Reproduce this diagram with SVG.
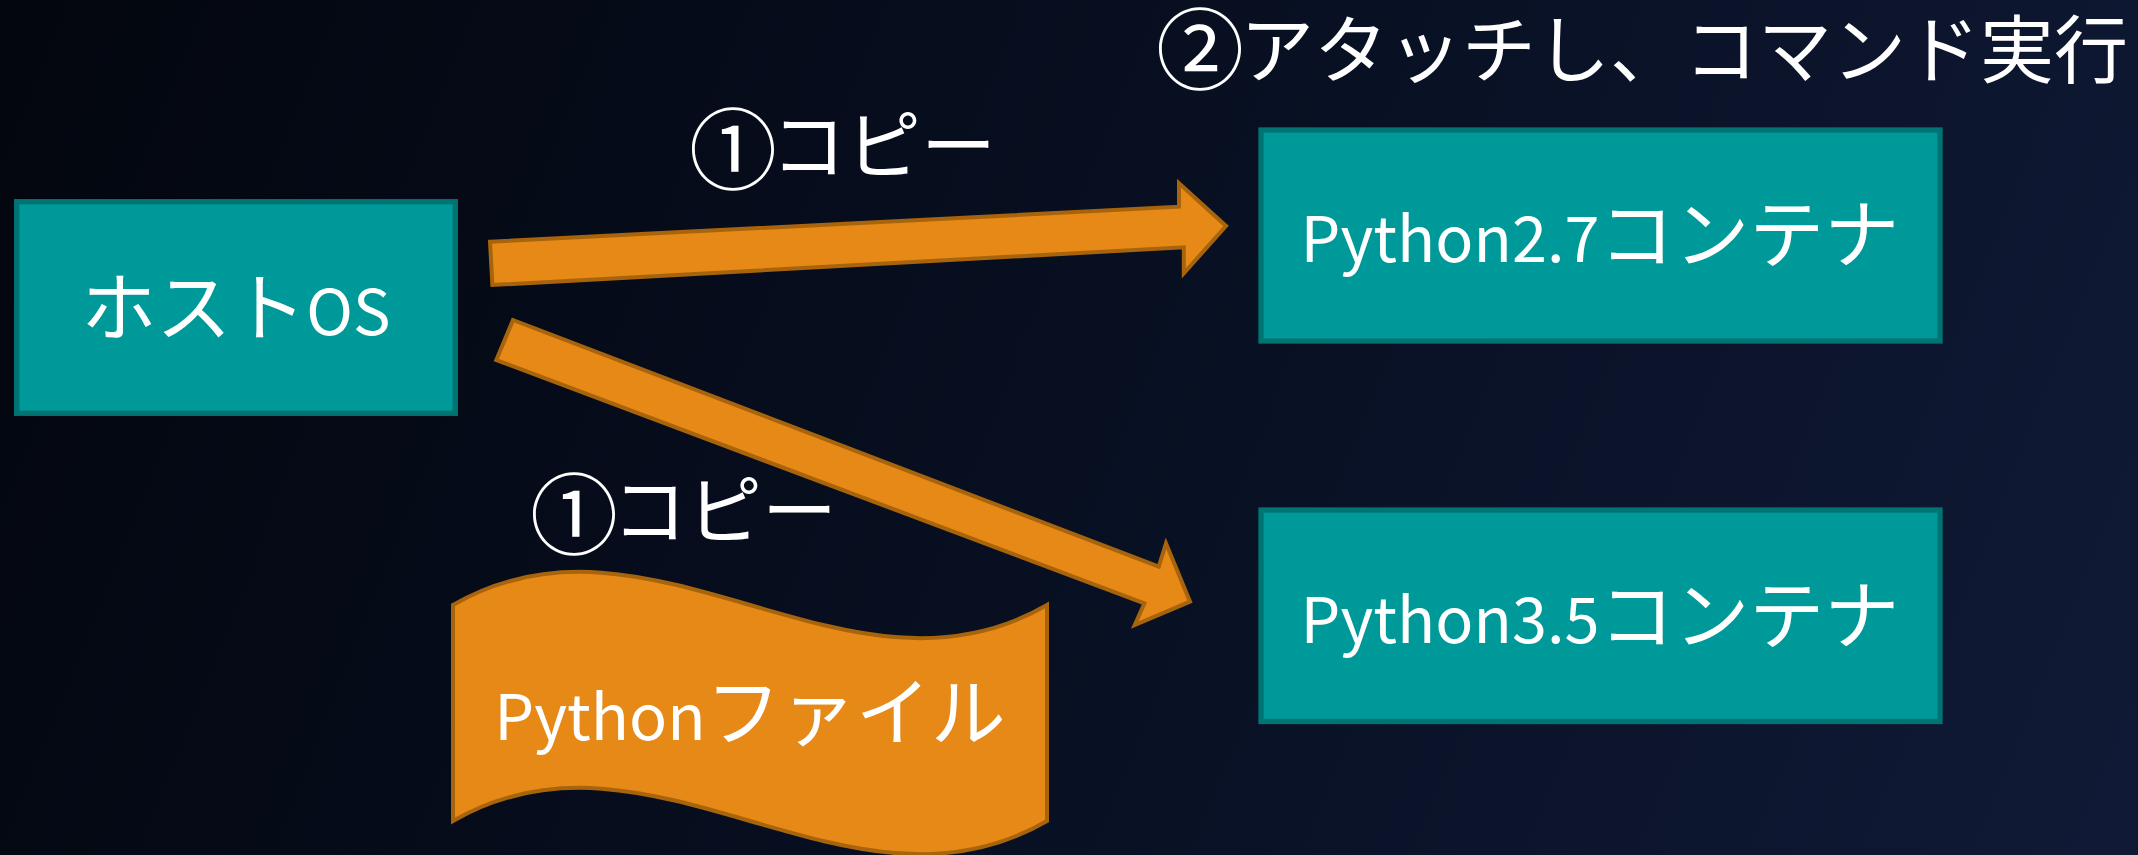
<svg xmlns="http://www.w3.org/2000/svg" width="2138" height="855" viewBox="0 0 2138 855">
  <defs>
    <linearGradient id="bg" x1="0" y1="0" x2="2138" y2="855" gradientUnits="userSpaceOnUse">
      <stop offset="0" stop-color="#03060e"/>
      <stop offset="0.55" stop-color="#081023"/>
      <stop offset="1" stop-color="#101a36"/>
    </linearGradient>
    <style>
      .box { fill: #009999; stroke: #007373; stroke-width: 5.3; }
      .flow { fill: #e68916; stroke: #a8640c; stroke-width: 4; stroke-linejoin: miter; }
      .lbl { fill: #ffffff; font-family: "Noto Sans CJK JP", "Noto Sans", sans-serif; font-size: 75px; }
      .lat { font-size: 63px; }
      .num { font-size: 88px; }
      .mid { text-anchor: middle; }
    </style>
  </defs>

  <rect x="0" y="0" width="2138" height="855" fill="url(#bg)"/>

  <!-- copy / attach arrows -->
  <g id="connectors">
    <path class="flow" d="M 490,241.7 L 1179,206.7 L 1179,183.3 L 1226,226 L 1183.8,273.3 L 1183.8,247.3 L 492.4,285 Z"/>
    <path class="flow" d="M 513,320 L 1158.8,566.7 L 1166,543.3 L 1190,601.7 L 1134.8,625 L 1144.4,603.3 L 496.3,360 Z"/>
  </g>

  <g id="host-os">
    <rect class="box" x="16.7" y="201.7" width="438.6" height="211.6"/>
    <text class="lbl mid" x="236" y="335">ホスト<tspan class="lat">OS</tspan></text>
  </g>

  <g id="py27">
    <rect class="box" x="1261" y="130" width="679" height="211"/>
    <text class="lbl mid" x="1600" y="262"><tspan class="lat">Python2.7</tspan>コンテナ</text>
  </g>

  <g id="py35">
    <rect class="box" x="1261" y="510" width="679" height="211.5"/>
    <text class="lbl mid" x="1600" y="643"><tspan class="lat">Python3.5</tspan>コンテナ</text>
  </g>

  <g id="py-file">
    <path class="flow" d="M 453,605 C 651,490 849,720 1047,605 L 1047,821 C 849,936 651,706 453,821 Z"/>
    <text class="lbl mid" x="750" y="740"><tspan class="lat">Python</tspan>ファイル</text>
  </g>

  <g id="labels">
    <text class="lbl"><tspan class="num" x="689" y="182">①</tspan><tspan x="771" y="173">コピー</tspan></text>
    <text class="lbl"><tspan class="num" x="530" y="547">①</tspan><tspan x="612" y="538">コピー</tspan></text>
    <text class="lbl"><tspan class="num" x="1156" y="82">②</tspan><tspan x="1240" y="77" style="font-size:74px">アタッチし、コマンド実行</tspan></text>
  </g>
</svg>
